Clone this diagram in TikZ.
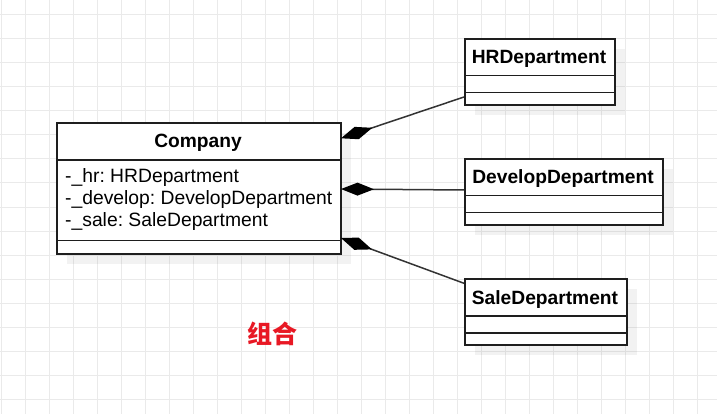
\documentclass[tikz,border=0pt]{standalone}
\usepackage{fontspec}
\setmainfont{Liberation Sans}
\newfontfamily\cjk{Noto Sans CJK SC}
\usetikzlibrary{arrows.meta,shadows}
\frenchspacing
\definecolor{gridc}{RGB}{234,234,234}
\definecolor{linec}{RGB}{30,30,30}
\definecolor{connc}{RGB}{51,51,51}
\definecolor{redc}{RGB}{232,24,36}
\tikzset{
  gridline/.style={draw=gridc, line width=1pt},
  cls/.style={draw=linec, line width=1.6pt, fill=white, rectangle, inner sep=0pt,
    anchor=north west,
    drop shadow={shadow xshift=10pt, shadow yshift=-10pt, fill=black, opacity=0.05}},
  sep/.style={draw=linec, line width=1.6pt},
  title/.style={font=\bfseries\fontsize{19.2}{22}\selectfont, inner sep=0pt, anchor=base},
  attr/.style={font=\fontsize{19.3}{22}\selectfont, inner sep=0pt, anchor=base west},
  conn/.style={draw=connc, line width=1.5pt, -{Diamond[length=33pt,width=13pt,fill=black,color=black]}},
}
\begin{document}
\begin{tikzpicture}[x=1pt,y=-1pt]
\useasboundingbox (0,0) rectangle (717,414);
\fill[white] (0,0) rectangle (717,414);
\foreach \i in {0,...,29} \draw[gridline] ({1+24*\i},0) -- ({1+24*\i},414);
\foreach \j in {0,...,16} \draw[gridline] (0,{15+24*\j}) -- (717,{15+24*\j});

% Company
\node[cls, minimum width=284pt, minimum height=131pt] (company) at (56,122) {};
\draw[sep] ([yshift=-38pt]company.north west) -- ([yshift=-38pt]company.north east);
\draw[sep] ([yshift=14pt]company.south west) -- ([yshift=14pt]company.south east);
\node[title] (ctitle) at (198,147.3) {Company};
\node[attr] (a1) at (65,182.7) {-\_hr: HRDepartment};
\node[attr] (a2) at (65,204.6) {-\_develop: DevelopDepartment};
\node[attr] (a3) at (65,226.6) {-\_sale: SaleDepartment};

% HRDepartment
\node[cls, minimum width=150pt, minimum height=66pt] (hr) at (464,38) {};
\draw[sep] ([yshift=-37.7pt]hr.north west) -- ([yshift=-37.7pt]hr.north east);
\draw[sep] ([yshift=13pt]hr.south west) -- ([yshift=13pt]hr.south east);
\node[title] (hrt) at (539,64) {HRDepartment};

% DevelopDepartment
\node[cls, minimum width=198pt, minimum height=66pt] (dev) at (464,158) {};
\draw[sep] ([yshift=-37.7pt]dev.north west) -- ([yshift=-37.7pt]dev.north east);
\draw[sep] ([yshift=13pt]dev.south west) -- ([yshift=13pt]dev.south east);
\node[title] (devt) at (563,184) {DevelopDepartment};

% SaleDepartment
\node[cls, minimum width=162pt, minimum height=66pt] (sale) at (464,278.3) {};
\draw[sep] ([yshift=-37.7pt]sale.north west) -- ([yshift=-37.7pt]sale.north east);
\draw[sep] ([yshift=13pt]sale.south west) -- ([yshift=13pt]sale.south east);
\node[title] (salet) at (545,304.3) {SaleDepartment};

% connector end points
\coordinate (hrL) at (464,97);
\coordinate (devL) at (464,190);
\coordinate (saleL) at (464,283.3);
\coordinate (cHR) at (341,138.3);
\coordinate (cDev) at (341,189);
\coordinate (cSale) at (341,238);
\draw[conn] (hrL) -- (cHR);
\draw[conn] (devL) -- (cDev);
\draw[conn] (saleL) -- (cSale);

\node[font=\cjk\bfseries\fontsize{25}{28}\selectfont, text=redc, inner sep=0pt] (label) at (272.5,333.5) {组合};
\end{tikzpicture}
\end{document}
